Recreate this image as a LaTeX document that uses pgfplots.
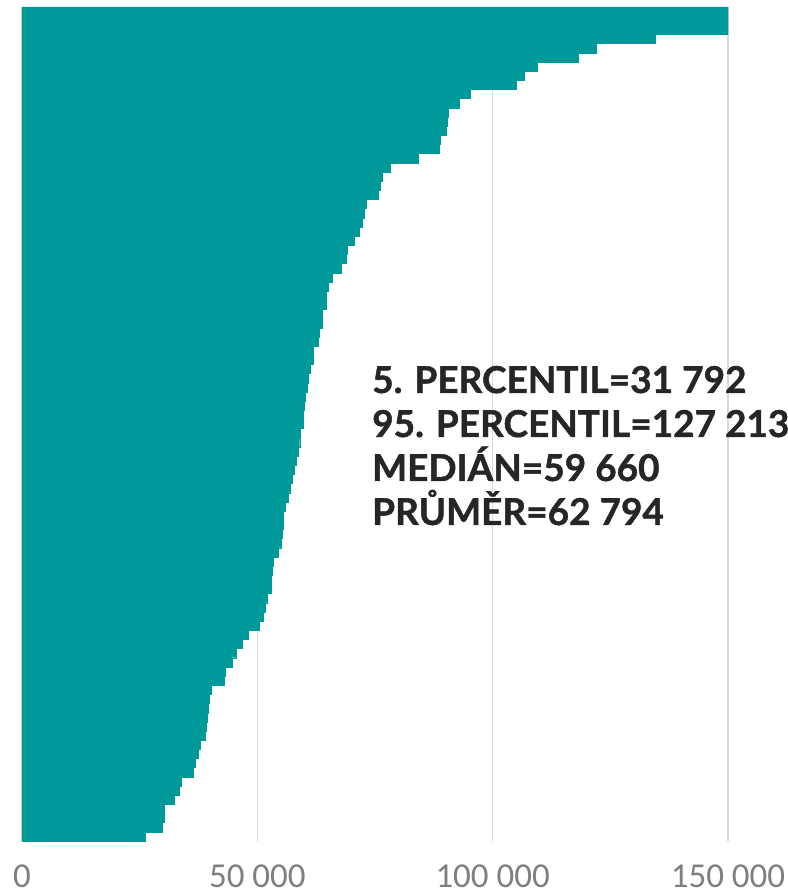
\documentclass[border=0pt]{standalone}
\usepackage{pgfplots}
\pgfplotsset{compat=1.18}
\usepackage{pgfplotstable}
\usepackage{fontspec}
\setmainfont{Carlito}
\newfontfamily\annfont[FakeBold=1.2]{Lato}
\definecolor{barteal}{HTML}{009999}
\definecolor{gridgray}{HTML}{D9D9D9}
\definecolor{ticklab}{HTML}{7F7F7F}
\definecolor{anntext}{HTML}{262626}

\pgfplotstableread{
idx val
0 150000
1 150000
2 150000
3 134500
4 122100
5 118200
6 109400
7 106700
8 105100
9 95300
10 92800
11 90500
12 90300
13 90100
14 88800
15 88600
16 84100
17 78200
18 76600
19 76100
20 75600
21 73200
22 72700
23 72200
24 71700
25 70600
26 69100
27 68800
28 67800
29 66000
30 65100
31 64700
32 64600
33 63800
34 63700
35 63200
36 62900
37 61900
38 61800
39 61300
40 60800
41 60600
42 60200
43 59900
44 59700
45 59660
46 59200
47 59000
48 58600
49 58200
50 57800
51 57400
52 57000
53 56600
54 55900
55 55600
56 55500
57 55300
58 55000
59 54500
60 53300
61 53100
62 53000
63 52900
64 52000
65 51700
66 51300
67 50300
68 48100
69 46800
70 45600
71 44600
72 43200
73 43000
74 40300
75 39700
76 39600
77 39400
78 39200
79 39000
80 37800
81 37400
82 36800
83 36400
84 33800
85 33400
86 32400
87 30300
88 30200
89 29700
90 26200
}\datatable

\begin{document}
\begin{tikzpicture}
\begin{axis}[
  scale only axis,
  width=706pt, height=834pt,
  xmin=0, xmax=150000,
  ymin=-0.5, ymax=90.5,
  y dir=reverse,
  xbar, bar width=1, bar shift=0pt,
  axis line style={draw=none},
  ytick=\empty,
  xtick={0,50000,100000,150000},
  xticklabels={0,50 000,100 000,150 000},
  major tick length=0pt,
  xmajorgrids,
  grid style={gridgray, line width=1.5pt},
  xticklabel style={anchor=north, inner sep=0pt, yshift=-24pt, text=ticklab, font=\fontsize{35}{35}\selectfont},
  clip=true,
]
\addplot[fill=barteal, draw=barteal, line width=0.4pt] table[x=val, y=idx] {\datatable};
\end{axis}
\begin{scope}[every node/.style={anchor=base west, inner sep=0pt, text=anntext, font=\annfont\bfseries\fontsize{37}{37}\selectfont}]
\node at ([xshift=350pt, yshift=-386pt]current axis.north west) {5. PERCENTIL=31 792};
\node at ([xshift=350pt, yshift=-430pt]current axis.north west) {95. PERCENTIL=127 213};
\node at ([xshift=350pt, yshift=-474pt]current axis.north west) {MEDIÁN=59 660};
\node at ([xshift=350pt, yshift=-518pt]current axis.north west) {PRŮMĚR=62 794};
\end{scope}
\pgfresetboundingbox
\path[use as bounding box] ([xshift=-22pt, yshift=-52pt]current axis.south west) rectangle ([xshift=59pt, yshift=7pt]current axis.north east);
\end{tikzpicture}
\end{document}
